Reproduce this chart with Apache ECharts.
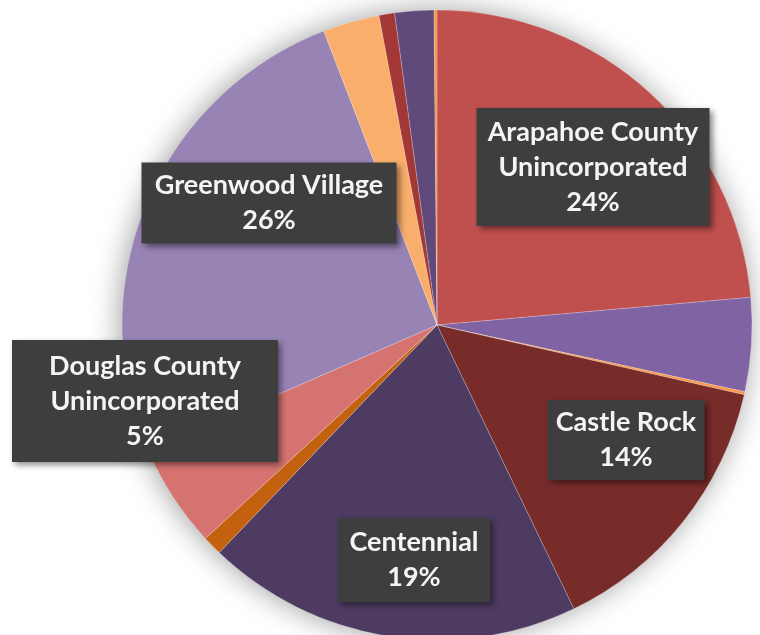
<!DOCTYPE html>
<html>
<head>
<meta charset="utf-8">
<script src="https://cdn.jsdelivr.net/npm/echarts@6/dist/echarts.min.js"></script>
<style>
html,body{margin:0;padding:0;background:#fff;}
#chart{width:760px;height:635px;}
</style>
</head>
<body>
<div id="chart"></div>
<script>
// Slice names (clockwise from 12 o'clock)
const sliceNames = [
  'Arapahoe County\nUnincorporated',
  'Slice B',
  'Slice C',
  'Castle Rock',
  'Centennial',
  'Slice F',
  'Douglas County\nUnincorporated',
  'Greenwood Village',
  'Slice I',
  'Slice J',
  'Slice K',
  'Slice L'
];
// Slice shares (percent)
const sliceValues = [23.6, 4.8, 0.15, 14.3, 19.3, 1.0, 5.3, 25.7, 2.9, 0.8, 2.0, 0.15];
// Which slices carry a label
const labelled = [true, false, false, true, true, false, true, true, false, false, false, false];

// Styling (kept separate from the data)
const sliceColors = ['#C0504D', '#7F63A3', '#F79646', '#772C2A', '#4D3B62', '#C4610F',
                     '#D57370', '#9883B5', '#F9AE6C', '#A33735', '#604A7B', '#F79646'];
// label box layout: index -> [centerX, centerY, width, height]
const labelBoxes = {
  0: [593, 167, 233, 118],
  3: [626, 440, 157, 80],
  4: [414, 560, 152, 84],
  6: [145, 401, 266, 122],
  7: [269, 203, 255, 81]
};

const chart = echarts.init(document.getElementById('chart'), null, {renderer: 'canvas'});

const pieData = sliceNames.map((n, i) => {
  const item = {name: n, value: sliceValues[i], itemStyle: {color: sliceColors[i]}};
  if (labelled[i]) {
    const b = labelBoxes[i];
    item.label = {show: true, width: b[2], height: b[3]};
  } else {
    item.label = {show: false};
  }
  return item;
});

chart.setOption({
  animation: false,
  backgroundColor: '#ffffff',
  series: [
    {
      type: 'pie',
      silent: true,
      z: 1,
      center: [437, 325],
      radius: 314,
      label: {show: false},
      labelLine: {show: false},
      itemStyle: {color: '#ffffff', shadowBlur: 30, shadowColor: 'rgba(0,0,0,0.4)', shadowOffsetX: -2, shadowOffsetY: 0},
      data: [{value: sliceValues.reduce((a, b) => a + b, 0), name: 'all'}]
    },
    {
      type: 'pie',
      z: 2,
      center: [437, 325],
      radius: 315,
      startAngle: 90,
      clockwise: true,
      avoidLabelOverlap: false,
      itemStyle: {borderWidth: 0.6, borderColor: 'rgba(255,255,255,0.35)'},
      labelLine: {show: false},
      label: {
        position: 'inside',
        formatter: p => p.name + '\n' + Math.round(p.percent) + '%',
        color: '#f4f4f4',
        fontFamily: 'Lato',
        fontWeight: 'bold',
        fontSize: 27,
        lineHeight: 35,
        align: 'center',
        verticalAlign: 'middle',
        backgroundColor: '#3e3e3e',
        padding: 0,
        shadowBlur: 6,
        shadowOffsetX: 3,
        shadowOffsetY: 3,
        shadowColor: 'rgba(0,0,0,0.45)'
      },
      labelLayout: function (params) {
        const b = labelBoxes[params.dataIndex];
        if (!b) return {};
        return {x: b[0], y: b[1], align: 'center', verticalAlign: 'middle'};
      },
      data: pieData
    }
  ]
});
</script>
</body>
</html>
